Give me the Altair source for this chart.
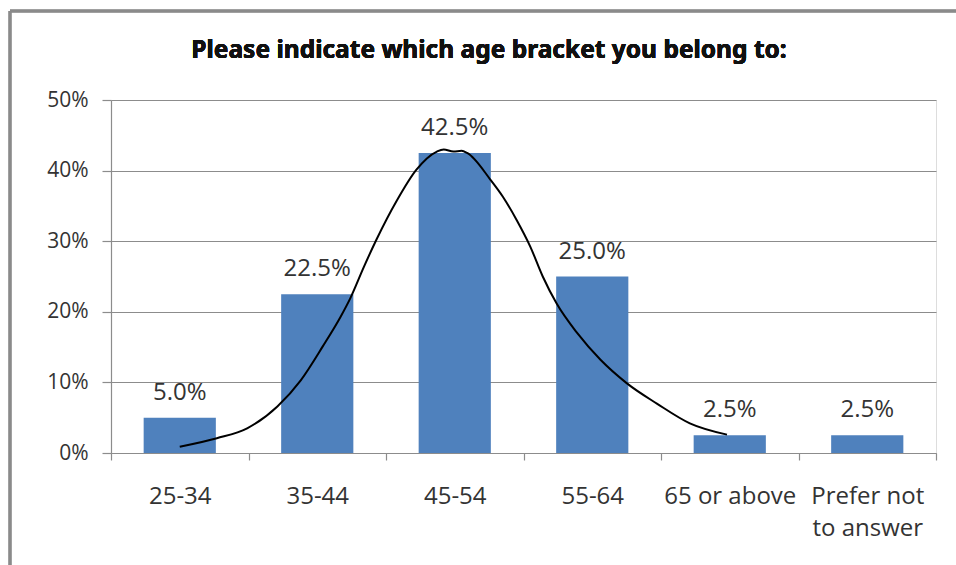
import altair as alt
import pandas as pd

# Survey answers: share of respondents per age bracket
categories = ["25-34", "35-44", "45-54", "55-64", "65 or above", "Prefer not\nto answer"]
shares = [0.050, 0.225, 0.425, 0.250, 0.025, 0.025]
title_text = "Please indicate which age bracket you belong to:"

# Hand-drawn trend curve (x in category-index units, y as share)
curve_x = [0.00, 0.27, 0.49, 0.71, 0.88, 1.04, 1.17, 1.24, 1.34, 1.43, 1.58, 1.72,
           1.87, 1.92, 1.99, 2.05, 2.09, 2.26, 2.35, 2.45, 2.55, 2.64, 2.74, 2.89,
           3.06, 3.25, 3.47, 3.71, 3.98]
curve_y = [0.009, 0.021, 0.035, 0.066, 0.103, 0.151, 0.193, 0.219, 0.264, 0.302, 0.358, 0.401,
           0.427, 0.430, 0.427, 0.428, 0.425, 0.387, 0.363, 0.330, 0.292, 0.250, 0.212, 0.170,
           0.132, 0.099, 0.070, 0.042, 0.026]

bars_df = pd.DataFrame({"bracket": categories, "share": shares})
curve_df = pd.DataFrame({"pos": curve_x, "share": curve_y})

FONT = "Open Sans"
GRAY = "#8c8c8c"
BLUE = "#4F81BD"

y_enc = alt.Y(
    "share:Q",
    scale=alt.Scale(domain=[0, 0.5], nice=False, zero=True),
    axis=alt.Axis(
        format=".0%", values=[0, 0.1, 0.2, 0.3, 0.4, 0.5], title=None,
        grid=True, gridColor=GRAY, gridWidth=1.2,
        domainColor=GRAY, domainWidth=1.2, tickColor=GRAY, tickWidth=1.2, tickSize=9,
        labelFont=FONT, labelFontSize=21, labelColor="#333333", labelPadding=14,
    ),
)

band_scale = alt.Scale(paddingInner=0, paddingOuter=0)

x_bar = alt.X(
    "bracket:N", sort=categories, title=None, scale=band_scale,
    axis=alt.Axis(
        labelAngle=0, labelFont=FONT, labelFontSize=24, labelColor="#333333",
        labelExpr="split(datum.label, '\\n')", labelLineHeight=32,
        labelPadding=24, tickSize=7, tickBand="extent",
        domainColor=GRAY, domainWidth=1.2, tickColor=GRAY, tickWidth=1.2,
    ),
)

bars = alt.Chart(bars_df).mark_bar(
    color=BLUE, width=alt.RelativeBandSize(0.525)
).encode(x=x_bar, y=y_enc)

labels = alt.Chart(bars_df).mark_text(
    font=FONT, fontSize=24, color="#333333", baseline="alphabetic", dy=-18
).encode(
    x=alt.X("bracket:N", sort=categories, scale=band_scale, axis=None),
    y="share:Q",
    text=alt.Text("share:Q", format=".1%"),
)

curve = alt.Chart(curve_df).mark_line(
    color="black", strokeWidth=2, interpolate="monotone", clip=False
).encode(
    x=alt.X("pos:Q", scale=alt.Scale(domain=[-0.5, 5.5], nice=False, zero=False), axis=None),
    y="share:Q",
)

# Chart heading, centred over the whole framed area
heading = alt.Chart(bars_df).mark_text(
    text=title_text, font="Noto Sans", fontSize=24.5, fontWeight="bold", color="#111111",
    align="center", baseline="alphabetic",
).encode(x=alt.value(378), y=alt.value(-42))

# Outer frame around the chart area
frame_top = alt.Chart(bars_df).mark_rule(color="#8a8a8a", strokeWidth=2.5).encode(
    x=alt.value(-101), x2=alt.value(880), y=alt.value(-89)
)
frame_left = alt.Chart(bars_df).mark_rule(color="#8a8a8a", strokeWidth=2.5).encode(
    x=alt.value(-101), y=alt.value(-89), y2=alt.value(500)
)

chart = (
    alt.layer(bars, labels, curve, heading, frame_top, frame_left)
    .resolve_scale(x="independent")
    .properties(
        width=825, height=353,
        autosize=alt.AutoSizeParams(type="none"),
        padding={"left": 111, "top": 100, "right": 20, "bottom": 112},
    )
    .configure_view(stroke=None)
    .configure(background="white")
)

chart.save("out.html", embed_options={"renderer": "svg", "actions": False})
